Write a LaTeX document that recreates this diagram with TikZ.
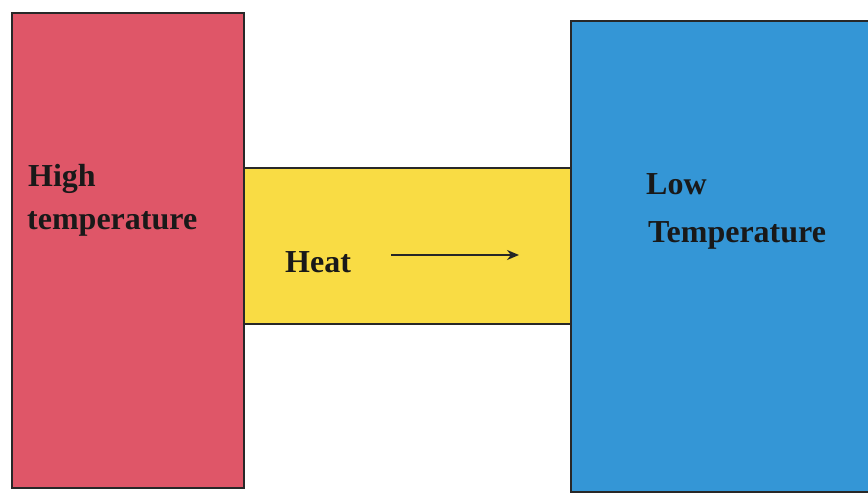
\documentclass[tikz,border=0pt]{standalone}
\usepackage{fontspec}
\setmainfont{Liberation Serif}
\usetikzlibrary{arrows.meta}
\definecolor{hotred}{RGB}{223,86,104}
\definecolor{rodyellow}{RGB}{249,220,68}
\definecolor{coldblue}{RGB}{52,150,214}
\definecolor{edge}{RGB}{40,40,40}
\tikzset{
  body/.style={draw=edge, line width=2pt},
  lbl/.style={anchor=base west, inner sep=0pt, text=black!90,
    font=\fontsize{32}{38}\selectfont\bfseries},
  flow/.style={line width=2pt, draw=black!85,
    -{Stealth[length=12pt,width=10pt]}}
}
\begin{document}
\begin{tikzpicture}[x=1pt,y=-1pt]
  \useasboundingbox (0,0) rectangle (868,494);
  % the conducting bar between the two reservoirs
  \filldraw[body, fill=rodyellow] (244,168) rectangle (572,324);
  % hot reservoir
  \filldraw[body, fill=hotred] (12,13) rectangle (244,488);
  % cold reservoir, running off the right side
  \filldraw[body, fill=coldblue] (571,21) rectangle (880,492);
  % labels
  \node[lbl] (hi1) at (28,187) {High};
  \node[lbl] (hi2) at (27,230) {temperature};
  \node[lbl] (lo1) at (646,195) {Low};
  \node[lbl] (lo2) at (648,243) {Temperature};
  \node[lbl] (heat) at (285,273) {Heat};
  % direction of heat flow
  \coordinate (a0) at (391,255);
  \coordinate (a1) at (519,255);
  \draw[flow] (a0) -- (a1);
\end{tikzpicture}
\end{document}
